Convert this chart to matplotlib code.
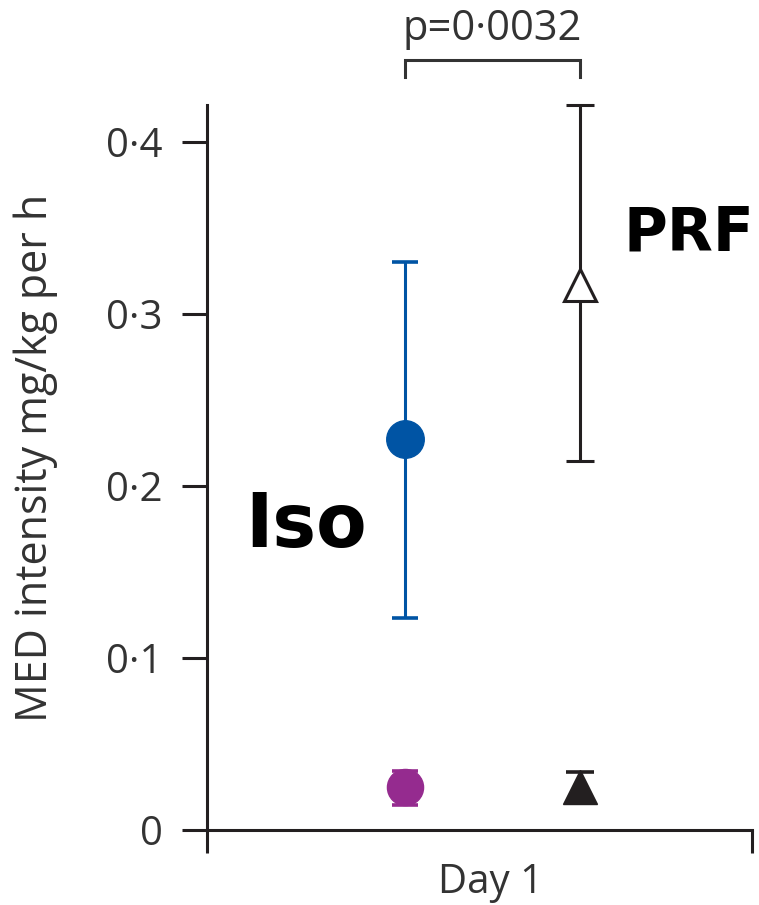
import matplotlib
matplotlib.use("Agg")
import matplotlib.pyplot as plt
import matplotlib.transforms as mtransforms

plt.rcParams.update({
    "font.family": ["Open Sans", "DejaVu Sans"],
    "figure.facecolor": "white",
    "axes.facecolor": "white",
})

# values (MED intensity, mg/kg per h, day 1)
groups = ["Iso", "PRF"]
main_mean = [0.2273, 0.3169]
main_low = [0.1233, 0.2145]
main_high = [0.3300, 0.4215]
small_mean = [0.0250, 0.0250]
small_low = [0.0146, 0.0160]
small_high = [0.0344, 0.0338]
yticks = [0, 0.1, 0.2, 0.3, 0.4]
ytick_labels = ["0", "0·1", "0·2", "0·3", "0·4"]
p_label = "p=0·0032"

INK = "#231f20"
BLUE = "#0054a4"
PURPLE = "#952b8f"
xpos = [0.363, 0.684]

fig = plt.figure(figsize=(7.59, 9.05), dpi=100)
ymax = 0.48
ax = fig.add_axes([207 / 759, 75 / 905, 545 / 759, ymax * 1720 / 905])
ax.set_xlim(0, 1)
ax.set_ylim(0, ymax)

def err(mean, lo, hi):
    return [[mean - lo], [hi - mean]]

# Iso (filled blue circle) and PRF (open triangle)
ax.errorbar([xpos[0]], [main_mean[0]],
            yerr=err(main_mean[0], main_low[0], main_high[0]),
            fmt="o", color=BLUE, ms=27, elinewidth=2.2,
            capsize=9.5, capthick=2.6, zorder=3, clip_on=False)
ax.errorbar([xpos[1]], [main_mean[1]],
            yerr=err(main_mean[1], main_low[1], main_high[1]),
            fmt="^", color=INK, mfc="white", mec=INK, mew=2.2,
            ms=23, elinewidth=2.2, capsize=10, capthick=2.6,
            zorder=3, clip_on=False)

# baseline groups
ax.errorbar([xpos[0]], [small_mean[0]],
            yerr=err(small_mean[0], small_low[0], small_high[0]),
            fmt="o", color=PURPLE, ms=26, elinewidth=2.2,
            capsize=9.5, capthick=2.6, zorder=3)
ax.errorbar([xpos[1]], [small_mean[1]],
            yerr=err(small_mean[1], small_low[1], small_high[1]),
            fmt="^", color=INK, ms=24, elinewidth=2.2,
            capsize=10, capthick=2.6, zorder=3)

# spines and ticks
for s in ["top", "right"]:
    ax.spines[s].set_visible(False)
ax.spines["left"].set_bounds(0, main_high[1])
for s in ["left", "bottom"]:
    ax.spines[s].set_linewidth(2.2)
    ax.spines[s].set_color(INK)

ax.set_yticks(yticks)
ax.set_yticklabels(ytick_labels)
ax.tick_params(axis="y", direction="out", length=18, width=2.2,
               color=INK, labelsize=29, labelcolor="#333333", pad=14)
ax.set_xticks([0, 1])
ax.set_xticklabels(["", ""])
ax.tick_params(axis="x", direction="out", length=16.5, width=2.2,
               color=INK)

trans = mtransforms.blended_transform_factory(ax.transAxes, ax.transData)
ax.text(0.52, -0.0366, "Day 1", transform=trans, ha="center",
        va="baseline", fontsize=29, color="#333333")

fig.text(36 / 759, 1 - 458 / 905, "MED intensity mg/kg per h",
         rotation=90, ha="center", va="center", fontsize=31,
         color="#333333")

# significance bracket
ax.plot([xpos[0], xpos[0], xpos[1], xpos[1]],
        [0.4378, 0.4477, 0.4477, 0.4378],
        color="#333333", lw=2.2, clip_on=False,
        solid_joinstyle="miter")
ax.text((xpos[0] + xpos[1]) / 2, 0.4593, p_label, ha="center",
        va="baseline", fontsize=30, color="#333333")

# group labels
ax.text(0.07, 0.1645, groups[0], ha="left", va="baseline",
        fontsize=53, fontweight="bold", color="black",
        family="DejaVu Sans")
ax.text(0.765, 0.3372, groups[1], ha="left", va="baseline",
        fontsize=43, fontweight="bold", color="black",
        family="DejaVu Sans")

fig.savefig("out.png", dpi=100)
